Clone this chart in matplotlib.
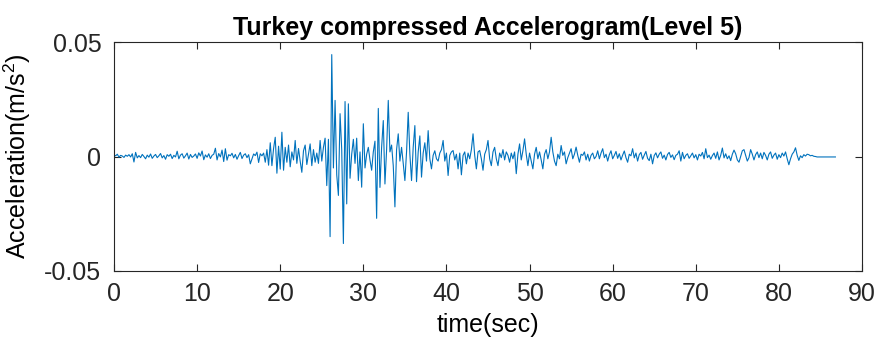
import matplotlib
matplotlib.use("Agg")
import matplotlib.pyplot as plt
import numpy as np

# acceleration samples every 0.2 s, in units of 0.001 m/s^2
DT = 0.2
ACC_MILLI = [
    0.7, 0.3, 1.0, -0.3, 0.5, 0.2, -0.4, 0.6, 0.1, 0.8,          # 0-2 s
    -0.2, 1.2, -2.4, 1.8, -0.6, 0.4, -0.5, 0.9, 0.0, -1.0,
    0.6, -0.3, 1.1, -0.8, 0.2, 0.9, -0.5, 0.3, 1.3, -0.6,
    0.4, -1.2, 0.8, 0.1, 1.0, -0.9, 0.5, -0.2, 2.3, -1.0,
    0.6, 1.2, -0.7, 0.3, 1.5, -1.1, 0.9, -0.4, 0.2, 1.1,
    -0.8, 1.6, 0.2, 2.4, -1.4, 0.7, -0.3, 1.2, -0.9, 0.5,        # 10-12 s
    1.0, 3.6, -1.5, 1.3, -0.2, 2.8, -2.2, 3.4, -1.6, 0.8,
    0.3, 1.4, -0.6, 0.9, -1.2, 0.4, 1.8, -0.9, 0.6, 1.2,
    -0.5, 0.8, -3.2, -1.0, 1.1, 0.4, 1.9, -2.6, 1.2, 0.3,
    1.5, -2.5, 3.0, -3.8, 6.0, -4.0, 3.5, 8.4, -7.3, 4.5,
    -5.5, 10.6, -6.0, 4.0, -2.5, 5.0, -4.5, 2.0, -1.5, 7.0,      # 20-22 s
    -3.0, 3.5, -2.0, -6.9, 2.5, 5.0, -3.5, 1.0, 5.5, -4.0,
    3.0, -2.5, 1.5, -3.0, 7.0, -2.0, 4.0, 8.0, -12.7, 7.5,
    -35.0, 44.5, -5.0, 24.5, -8.0, -17.0, 18.7, 3.0, -38.0, 24.0,
    -20.7, 23.0, -9.5, 1.0, 7.5, -3.0, 8.0, -10.5, 2.0, -13.4,
    14.3, -5.0, 1.0, 4.0, -1.5, -6.0, 2.0, 6.7, -27.0, 21.0,     # 30-32 s
    -13.5, 4.0, 15.7, -12.0, 3.0, 24.5, 2.0, 5.0, -4.0, -22.0,
    3.0, 9.9, -2.0, 4.0, -3.0, -10.5, 2.0, 19.3, 1.0, -10.5,
    4.0, 13.5, -11.0, 2.0, 9.0, -9.0, 1.5, 6.0, -2.0, 11.3,
    -1.0, -5.4, 0.5, 2.5, -1.0, -2.0, 1.5, 3.0, 7.0, -2.0,
    1.5, -8.3, 0.5, 2.0, 2.6, -1.5, 1.0, -5.4, 1.5, -8.0,        # 40-42 s
    0.5, 2.0, -3.2, 1.5, -1.0, 3.0, 9.9, 0.5, -5.4, 2.0,
    2.6, -1.0, -6.0, 1.0, 3.0, 7.0, -1.0, -4.0, 2.0, 4.0,
    -1.0, -4.0, 1.5, -0.5, 3.0, -1.5, 2.0, 0.5, -2.5, 1.5,
    -1.0, 2.0, -7.5, 1.0, 5.5, -1.5, 2.5, 7.7, 1.0, -4.0,
    1.5, -2.0, -5.4, 1.0, 4.0, -1.0, 2.0, -1.5, -5.4, 1.0,       # 50-52 s
    3.0, -1.0, 2.0, 8.4, 2.0, -2.0, -4.0, 1.0, -1.0, 4.8,
    0.5, 2.0, -3.2, -0.5, 1.5, 3.4, -1.0, 1.0, 4.1, 0.5,
    -2.5, 1.0, 0.5, 2.0, -1.5, 1.0, -2.0, 0.5, 1.5, -1.0,
    0.0, 2.5, -1.0, 1.5, 3.4, -0.5, 1.0, -2.0, 0.8, 2.5,
    -1.0, 0.5, 2.2, -0.8, 1.2, -1.5, 0.6, 2.4, -0.5, -2.5,       # 60-62 s
    1.0, 0.3, 3.4, -0.6, 1.5, -2.0, 0.8, 1.8, -1.2, 0.6,
    2.2, -0.8, -1.8, 1.0, -3.2, 0.4, 1.6, -0.6, 1.0, 2.0,
    -0.8, 0.6, -1.5, 0.9, 1.8, -0.4, 0.7, -1.4, 0.5, 1.0,
    2.5, -2.0, 1.8, -1.0, 0.5, 1.2, -0.8, 0.3, 1.5, -0.6,
    0.8, -1.5, 1.0, 0.2, 1.8, -1.0, 3.4, -0.5, 0.6, -1.2,        # 70-72 s
    0.4, 1.5, -0.8, 2.0, -1.5, 0.5, 3.7, -0.6, 1.2, -1.0,
    0.3, -1.8, 1.0, 2.8, 1.2, -1.5, -2.5, 0.0, 2.5, 3.0,
    0.5, -2.0, -0.5, 3.0, 1.0, -1.5, 0.8, 2.0, -0.5, 1.5,
    -1.0, 1.8, 0.5, -1.5, 1.0, 2.0, -0.8, 0.6, 1.5, -1.2,
    0.8, -0.5, 1.5, 0.2, 2.0, -1.0, -3.6, -1.0, 1.0, 2.0,        # 80-82 s
    3.8, 0.5, -1.7, 0.3, -0.5, 0.8, 0.2, 1.0, 0.8, 0.3,
    0.5, 0.1, 0.0, -0.2, -0.2, -0.2, -0.2, -0.2, -0.2, -0.2,
    -0.2, -0.2, -0.2, -0.2, -0.2,
]
X_TICKS = [0, 10, 20, 30, 40, 50, 60, 70, 80, 90]
Y_TICKS = [-0.05, 0, 0.05]
Y_TICK_LABELS = ["-0.05", "0", "0.05"]

acc = np.array(ACC_MILLI) * 1e-3
t = np.arange(len(acc)) * DT

plt.rcParams["font.family"] = ["Liberation Sans", "DejaVu Sans"]
plt.rcParams["mathtext.fontset"] = "custom"
plt.rcParams["mathtext.rm"] = "Liberation Sans"

fig = plt.figure(figsize=(8.79, 3.49), dpi=100)
ax = fig.add_axes([114 / 879, 1 - 271 / 349, (862 - 114) / 879, (271 - 42) / 349])

ax.plot(t, acc, color="#0072BD", linewidth=0.8)

ax.set_xlim(0, 90)
ax.set_ylim(-0.05, 0.05)
ax.set_xticks(X_TICKS)
ax.set_yticks(Y_TICKS)
ax.set_yticklabels(Y_TICK_LABELS)
ax.tick_params(direction="in", top=True, right=True, length=5, width=0.8,
               labelsize=18, colors="#262626")
ax.tick_params(axis="x", pad=8)
ax.tick_params(axis="y", pad=9)
for sp in ax.spines.values():
    sp.set_color("#262626")
    sp.set_linewidth(0.8)

ax.set_title("Turkey compressed Accelerogram(Level 5)", fontsize=18,
             fontweight="bold", pad=5)
ax.set_xlabel("time(sec)", fontsize=18, labelpad=5)
ax.set_ylabel("Acceleration(m/s$^2$)", fontsize=18, labelpad=8)

fig.savefig("out.png", dpi=100, facecolor="white")
